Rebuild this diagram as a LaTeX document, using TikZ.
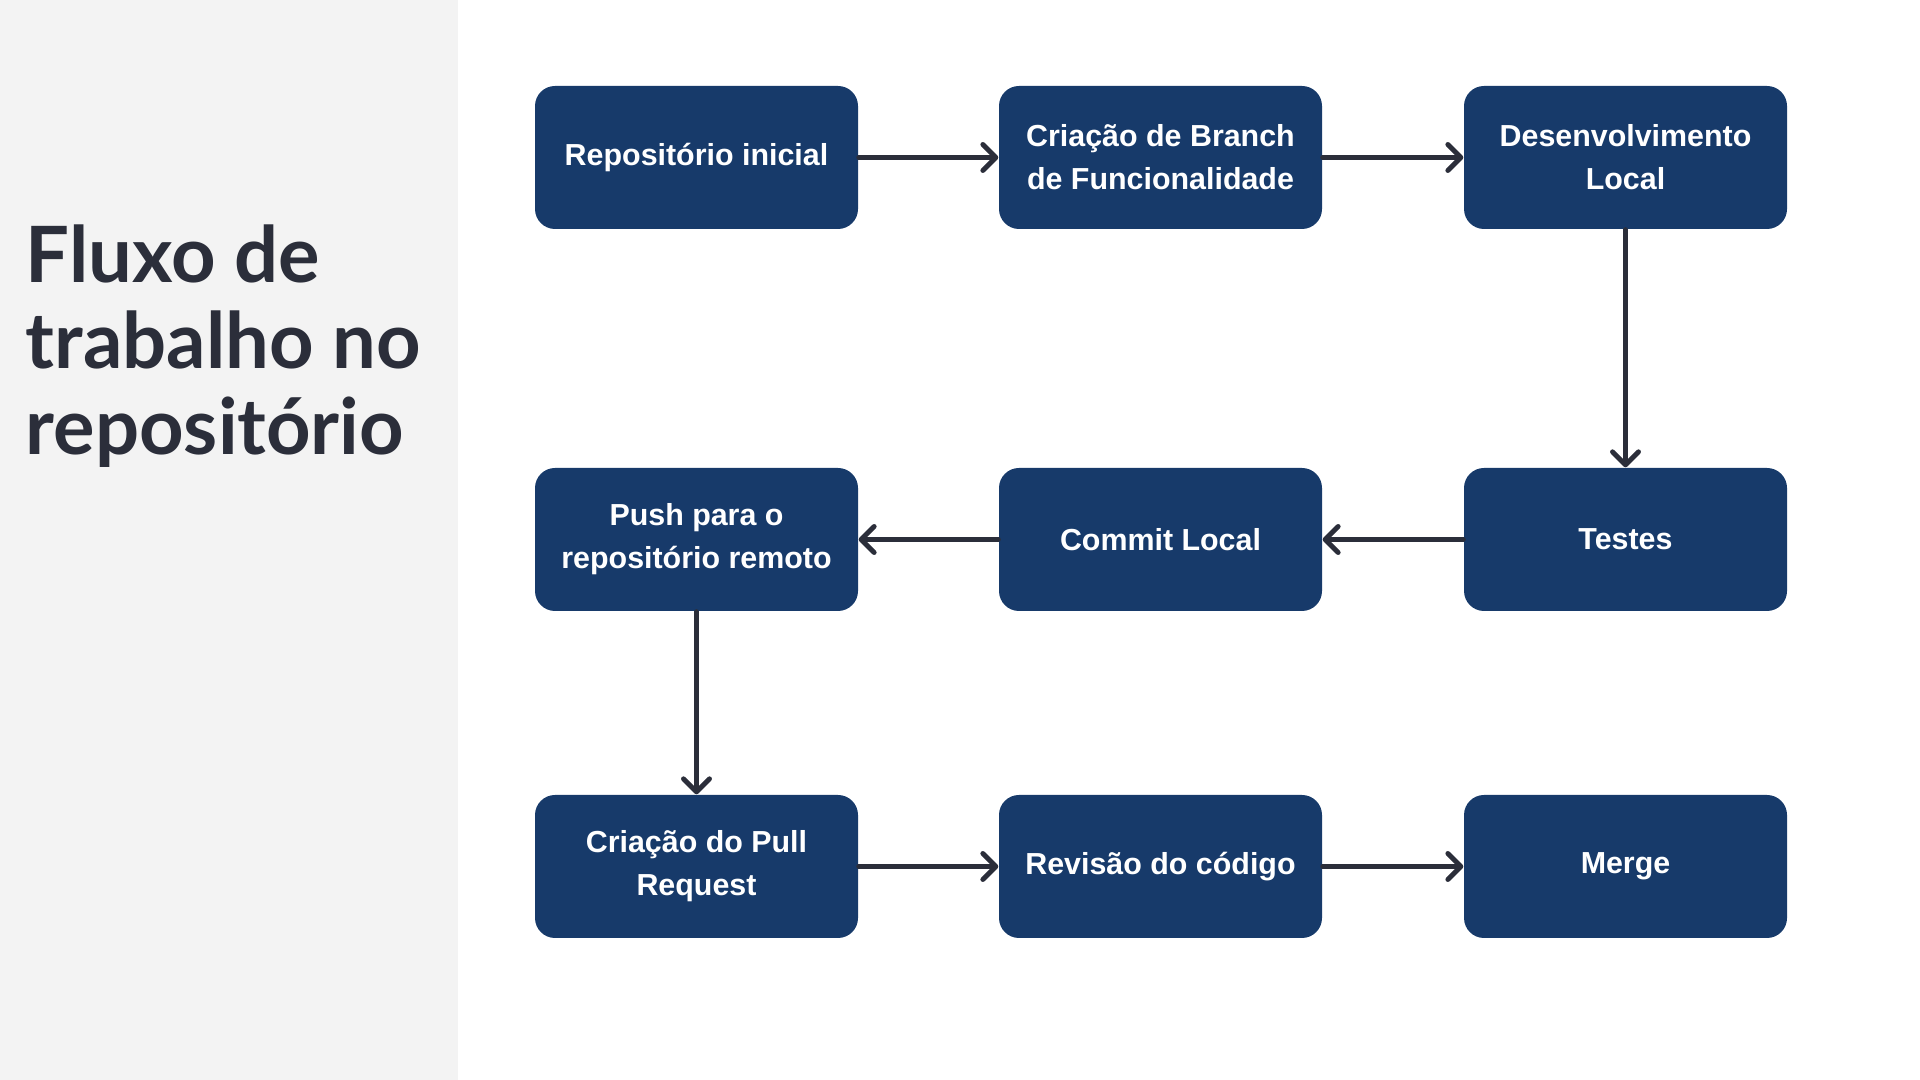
\documentclass[tikz,border=0pt]{standalone}
\usepackage{fontspec}
\setmainfont{Liberation Sans}
\newfontfamily\titulofonte{Lato}
\usetikzlibrary{arrows.meta}
\definecolor{azul}{HTML}{173A6A}
\definecolor{escuro}{HTML}{2B2E3A}
\definecolor{fundo}{HTML}{F3F3F3}
\begin{document}
\begin{tikzpicture}[
                caixa/.style={shape=rectangle, rounded corners=0.2cm, fill=azul, text=white,
                    minimum width=3.23cm, minimum height=1.43cm, align=center,
                    font=\fontsize{8.65}{12.2}\selectfont\bfseries},
                seta/.style={draw=escuro, line width=1.4pt, line cap=round,
                    -{Straight Barb[length=0.13cm, width=0.26cm, round]}},
            ]
            \useasboundingbox (0, 0) rectangle (19.2, 10.8);
            \fill[fundo] (0, 0) rectangle (4.58, 10.8);
            \node[anchor=north west, inner sep=0, align=left, text=escuro,
                font=\titulofonte\fontsize{22.1}{24.5}\selectfont\bfseries]
                (titulo) at (0.25, 8.56) {Fluxo de\\trabalho no\\repositório};
            \node[caixa] (repo) at (6.965, 9.225) {Repositório inicial};
            \node[caixa] (branch) at (11.605, 9.225) {Criação de Branch\\de Funcionalidade};
            \node[caixa] (dev) at (16.255, 9.225) {Desenvolvimento\\Local};
            \node[caixa] (testes) at (16.255, 5.405) {Testes};
            \node[caixa] (commit) at (11.605, 5.405) {Commit Local};
            \node[caixa] (push) at (6.965, 5.405) {Push para o\\repositório remoto};
            \node[caixa] (pr) at (6.965, 2.135) {Criação do Pull\\Request};
            \node[caixa] (revisao) at (11.605, 2.135) {Revisão do código};
            \node[caixa] (merge) at (16.255, 2.135) {Merge};
            \draw[seta] (repo) -- (branch);
            \draw[seta] (branch) -- (dev);
            \draw[seta] (dev) -- (testes);
            \draw[seta] (testes) -- (commit);
            \draw[seta] (commit) -- (push);
            \draw[seta] (push) -- (pr);
            \draw[seta] (pr) -- (revisao);
            \draw[seta] (revisao) -- (merge);
        \end{tikzpicture}
\end{document}
